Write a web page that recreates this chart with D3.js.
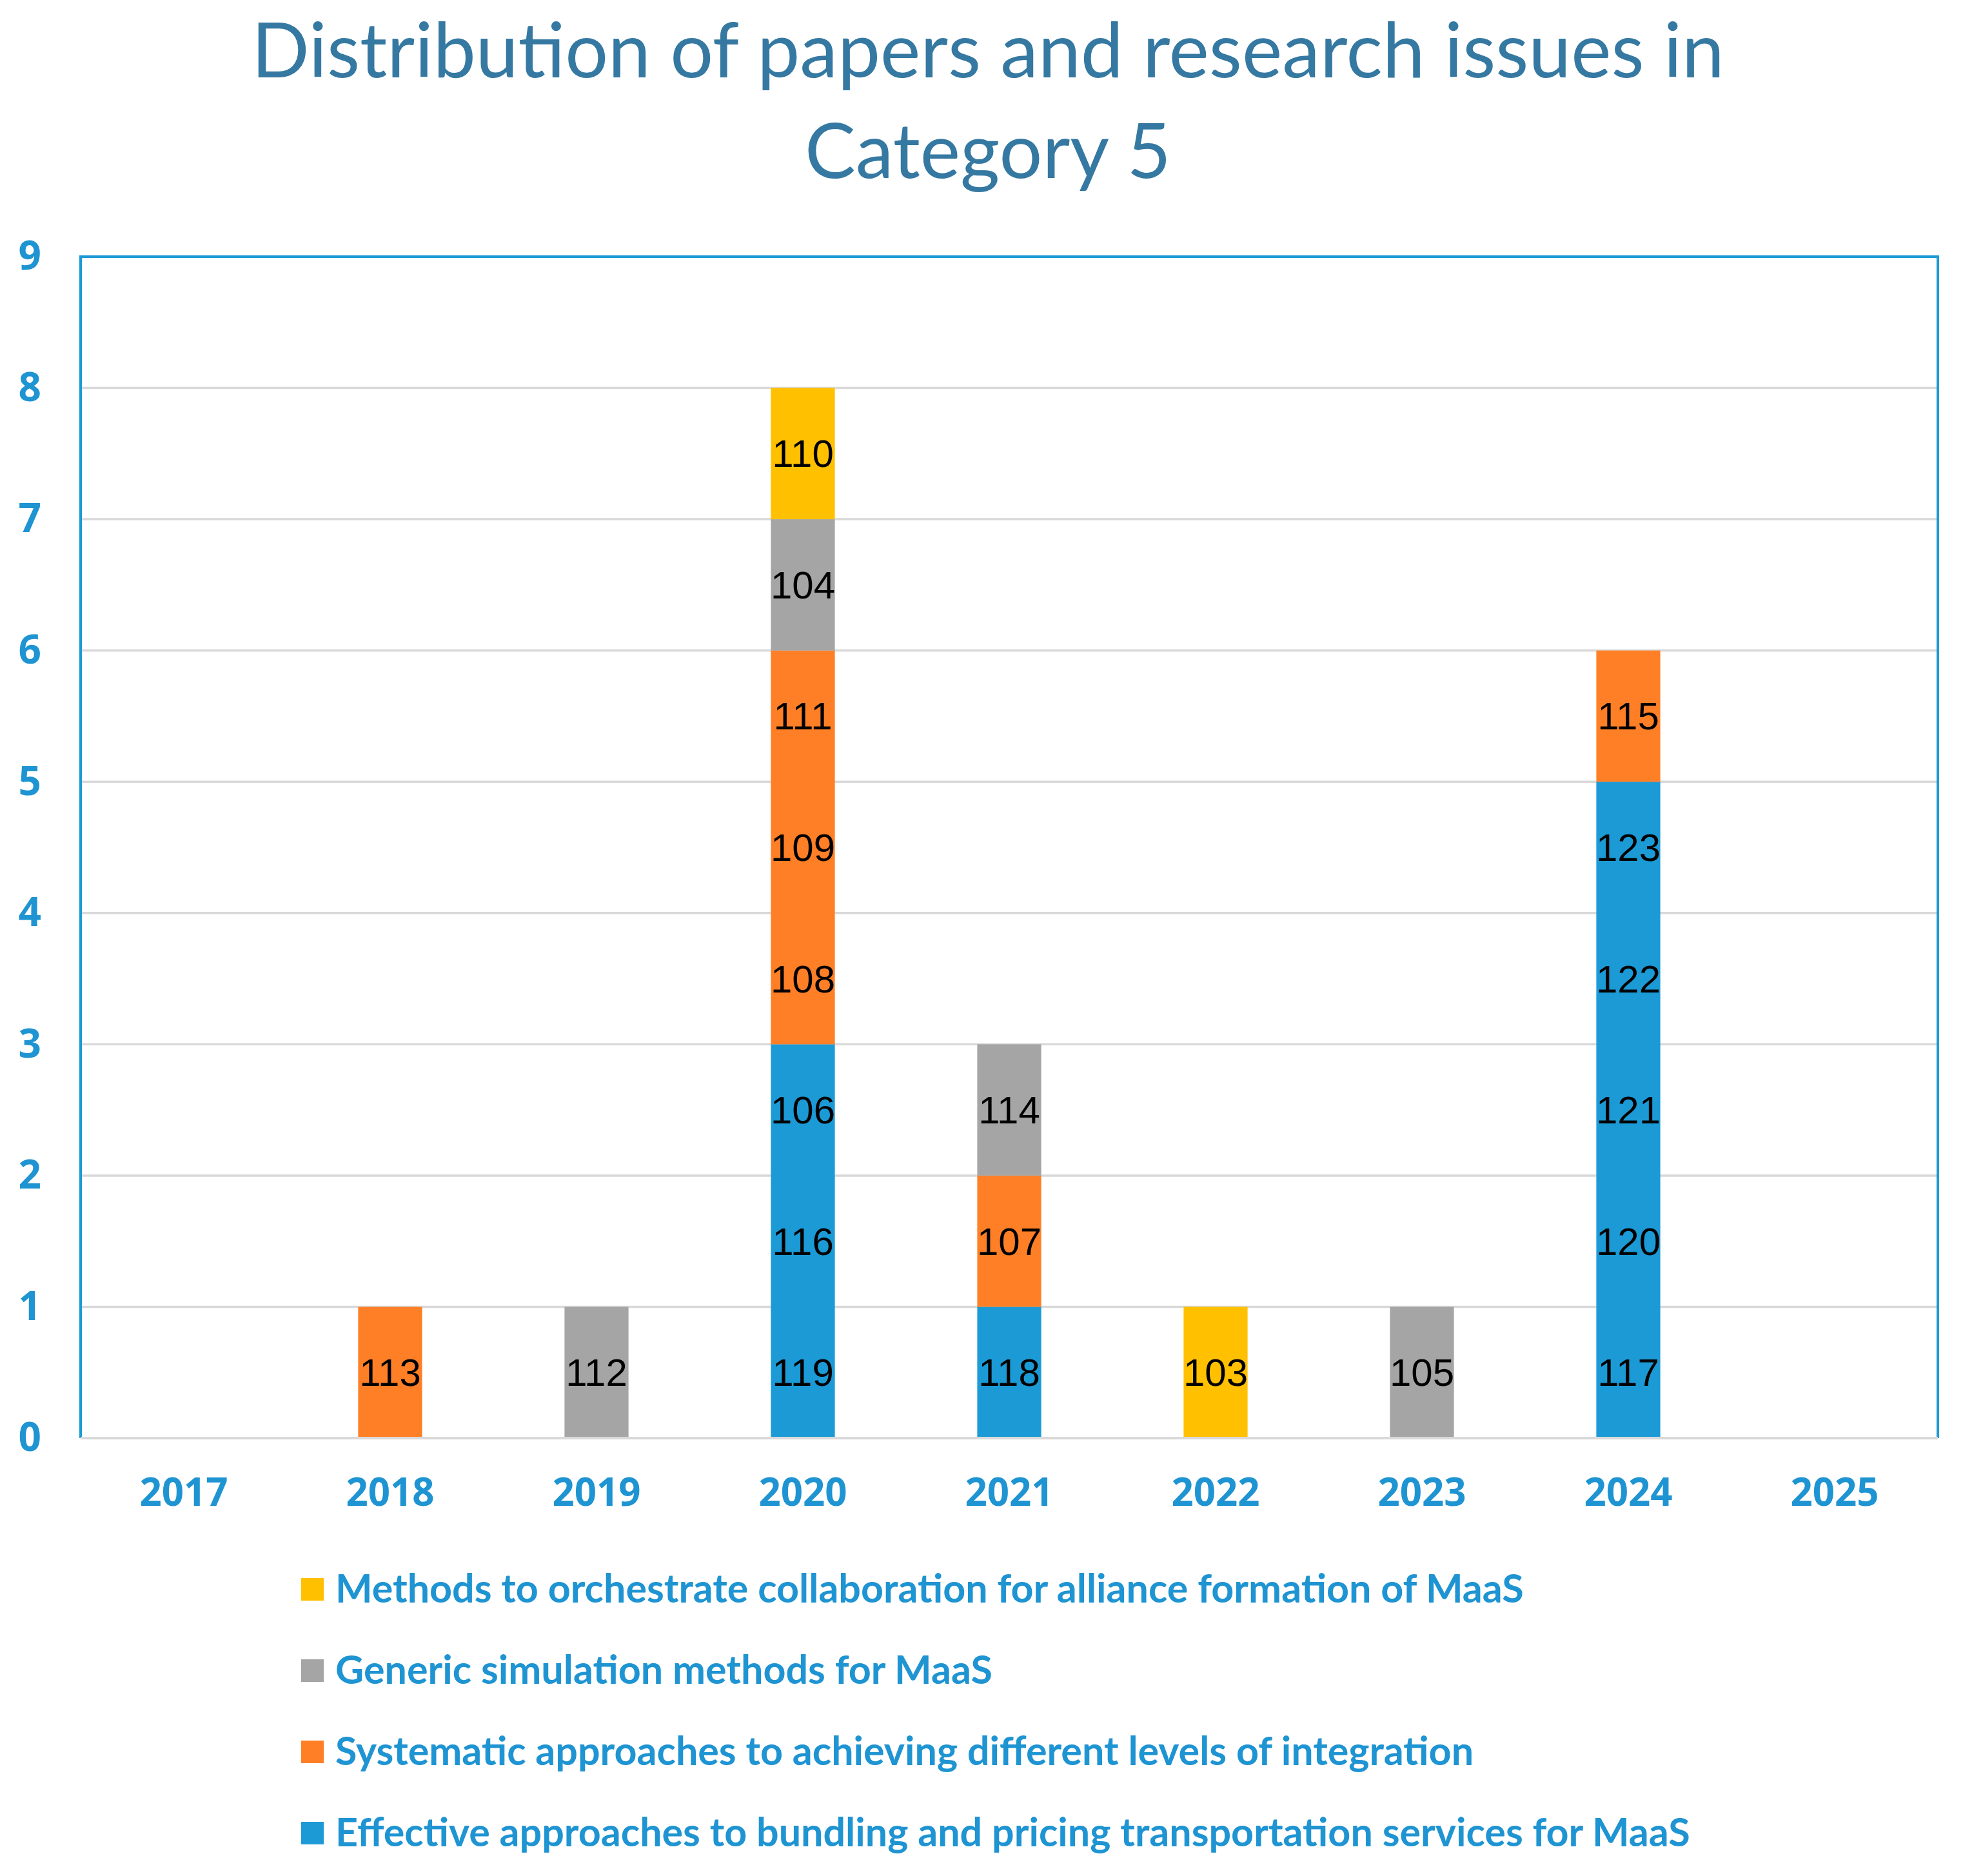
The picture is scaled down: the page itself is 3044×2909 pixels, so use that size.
<!DOCTYPE html>
<html>
<head>
<meta charset="utf-8">
<script src="https://cdn.jsdelivr.net/npm/d3@7"></script>
<style>
  body { margin: 0; background: #fff; }
</style>
</head>
<body>
<div id="chart"></div>
<script>
// Years on the x axis
const years = ["2017", "2018", "2019", "2020", "2021", "2022", "2023", "2024", "2025"];

// Series, bottom of the stack first
const seriesNames = [
  "Effective approaches to bundling and pricing transportation services for MaaS",
  "Systematic approaches to achieving different levels of integration",
  "Generic simulation methods for MaaS",
  "Methods to orchestrate collaboration for alliance formation of MaaS"
];
const seriesColors = ["#1B9AD6", "#FF7F27", "#A5A5A5", "#FFC000"];

// Paper reference numbers per year, one per unit segment (bottom to top)
const bundlingPapers = [[], [], [], ["119", "116", "106"], ["118"], [], [], ["117", "120", "121", "122", "123"], []];
const integrationPapers = [[], ["113"], [], ["108", "109", "111"], ["107"], [], [], ["115"], []];
const simulationPapers = [[], [], ["112"], ["104"], ["114"], [], ["105"], [], []];
const collaborationPapers = [[], [], [], ["110"], [], ["103"], [], [], []];

const yTicks = [0, 1, 2, 3, 4, 5, 6, 7, 8, 9];

const width = 3044, height = 2909;
const plot = { left: 125, right: 3005, top: 398, bottom: 2230 };
const blue = "#1B9AD6";
const textBlue = "#1F94D2";

const svg = d3.select("#chart").append("svg")
  .attr("width", width)
  .attr("height", height);

const x = d3.scaleBand().domain(years)
  .range([plot.left, plot.right])
  .paddingInner(0.69)
  .paddingOuter(0.345);

const y = d3.scaleLinear().domain([0, 9]).range([plot.bottom, plot.top]);

// Title
const title = svg.append("text")
  .attr("text-anchor", "middle")
  .attr("fill", "#3579A2")
  .style("font-family", "Lato, sans-serif")
  .style("font-size", "118px");
title.append("tspan").attr("x", 1532).attr("y", 120).text("Distribution of papers and research issues in");
title.append("tspan").attr("x", 1532).attr("y", 276).text("Category 5");

// Gridlines
svg.append("g")
  .selectAll("line")
  .data(yTicks.slice(0, -1))
  .join("line")
  .attr("x1", plot.left)
  .attr("x2", plot.right)
  .attr("y1", d => y(d))
  .attr("y2", d => y(d))
  .attr("stroke", "#D9D9D9")
  .attr("stroke-width", 3.5);

// Stack data: one row per year with counts per series
const paperLists = [bundlingPapers, integrationPapers, simulationPapers, collaborationPapers];
const rows = years.map((yr, i) => {
  const r = { year: yr };
  paperLists.forEach((list, s) => { r[s] = list[i].length; });
  return r;
});
const stacked = d3.stack().keys(d3.range(seriesNames.length))(rows);

// Bars: one rect per series/year, and one label per unit segment
const barG = svg.append("g");
stacked.forEach((layer, s) => {
  layer.forEach((seg, i) => {
    if (seg[1] - seg[0] <= 0) return;
    barG.append("rect")
      .attr("x", x(years[i]))
      .attr("width", x.bandwidth())
      .attr("y", y(seg[1]))
      .attr("height", y(seg[0]) - y(seg[1]))
      .attr("fill", seriesColors[s]);
    paperLists[s][i].forEach((id, k) => {
      barG.append("text")
        .attr("x", x(years[i]) + x.bandwidth() / 2)
        .attr("y", y(seg[0] + k + 0.5))
        .attr("dy", "0.35em")
        .attr("text-anchor", "middle")
        .attr("fill", "#000")
        .style("font-family", "'Liberation Sans', Arial, sans-serif")
        .style("font-size", "60px")
        .text(id);
    });
  });
});

// Plot border (blue top/left/right)
svg.append("path")
  .attr("d", `M${plot.left},${plot.bottom}V${plot.top}H${plot.right}V${plot.bottom}`)
  .attr("fill", "none")
  .attr("stroke", blue)
  .attr("stroke-width", 4);

// Zero line
svg.append("line")
  .attr("x1", plot.left).attr("x2", plot.right)
  .attr("y1", y(0)).attr("y2", y(0))
  .attr("stroke", "#D9D9D9")
  .attr("stroke-width", 4);

// Y axis labels
const yAxis = d3.axisLeft(y).tickValues(yTicks).tickSize(0).tickPadding(0);
const yG = svg.append("g").attr("transform", "translate(64,0)").call(yAxis);
yG.select(".domain").remove();
yG.selectAll("text")
  .attr("fill", textBlue)
  .style("font-family", "'Open Sans', sans-serif")
  .style("font-weight", "bold")
  .style("font-size", "62px");

// X axis labels
const xAxis = d3.axisBottom(x).tickSize(0).tickPadding(0);
const xG = svg.append("g").attr("transform", `translate(0,${plot.bottom})`).call(xAxis);
xG.select(".domain").remove();
xG.selectAll("text")
  .attr("dy", null)
  .attr("y", 105)
  .attr("fill", textBlue)
  .style("font-family", "'Open Sans', sans-serif")
  .style("font-weight", "bold")
  .style("font-size", "60px");

// Legend (top entry is the top of the stack)
const legendOrder = d3.range(seriesNames.length).reverse();
const legend = svg.append("g")
  .selectAll("g")
  .data(legendOrder)
  .join("g")
  .attr("transform", (d, i) => `translate(467,${2464 + i * 126})`);
legend.append("rect")
  .attr("x", 0).attr("y", -17)
  .attr("width", 35).attr("height", 35)
  .attr("fill", d => seriesColors[d]);
legend.append("text")
  .attr("x", 53)
  .attr("y", 0)
  .attr("dy", "0.35em")
  .attr("fill", textBlue)
  .style("font-family", "Lato, sans-serif")
  .style("font-weight", "bold")
  .style("font-size", "61px")
  .text(d => seriesNames[d]);
</script>
</body>
</html>
